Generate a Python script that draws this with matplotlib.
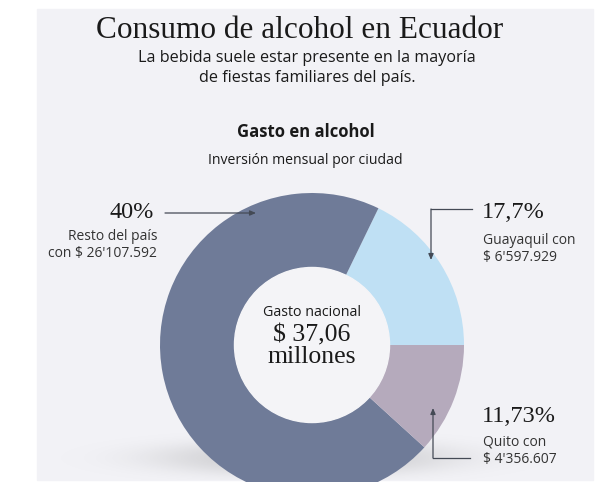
import numpy as np
import matplotlib.pyplot as plt
from matplotlib.patches import Rectangle, Circle

# gasto mensual en alcohol por ciudad (USD)
ciudades = ["Guayaquil", "Resto del país", "Quito"]
montos = [6597929, 26107592, 4356607]
porcentajes = ["17,7%", "40%", "11,73%"]
montos_txt = ["$ 6'597.929", "$ 26'107.592", "$ 4'356.607"]
total_txt = "$ 37,06"

colores = ["#bfe0f4", "#6f7b98", "#b5aabc"]
fondo = "#f2f2f6"
SANS = "Open Sans"
SERIF = "Liberation Serif"

W, H = 598, 482
fig = plt.figure(figsize=(W / 100, H / 100), dpi=100)
ax = fig.add_axes([0, 0, 1, 1])


def y(py):
    # pixel row (from top) -> data y
    return H - py


# panel de fondo
ax.add_patch(Rectangle((37, y(480)), 556, 471, color=fondo, zorder=0))

# sombra suave bajo la dona
x0, x1, t0, t1 = 37, 593, 380, 480
xs = np.linspace(x0, x1, 400)
ys = np.linspace(y(t1), y(t0), 150)
gx, gy = np.meshgrid(xs, ys)
d = ((gx - 305) / 150) ** 2 + ((gy - y(458)) / 18) ** 2
sombra = np.zeros(gx.shape + (4,))
sombra[..., :3] = 0.5
sombra[..., 3] = 0.3 * np.exp(-d ** 1.5)
ax.imshow(sombra, extent=(x0, x1, y(t1), y(t0)), origin="lower",
          zorder=1, interpolation="bilinear")

cx, cy, r = 312, y(345), 152
ax.pie(montos, colors=colores, startangle=0, counterclock=True,
       center=(cx, cy), radius=r, frame=True,
       wedgeprops=dict(width=r * 0.49, linewidth=0, zorder=2))
ax.add_patch(Circle((cx, cy), r * 0.51, color="#f4f4f7", zorder=3))
ax.set_xlim(0, W)
ax.set_ylim(0, H)
ax.set_aspect("equal")
ax.axis("off")

tc = "#1a1a1a"
# textos de cabecera
ax.text(300, y(31), "Consumo de alcohol en Ecuador", family=SERIF,
        fontsize=22.5, ha="center", va="center", color=tc)
ax.text(307, y(58), "La bebida suele estar presente en la mayoría",
        family=SANS, fontsize=11.6, ha="center", va="center", color=tc)
ax.text(307, y(78), "de fiestas familiares del país.",
        family=SANS, fontsize=11.6, ha="center", va="center", color=tc)
ax.text(306, y(132), "Gasto en alcohol", family=SANS, fontsize=12,
        weight="bold", ha="center", va="center", color=tc)
ax.text(305, y(160), "Inversión mensual por ciudad", family=SANS,
        fontsize=10.1, ha="center", va="center", color=tc)

# centro de la dona
ax.text(cx, y(313), "Gasto nacional", family=SANS, fontsize=10.3,
        ha="center", va="center", color=tc, zorder=4)
ax.text(cx, y(335), total_txt, family=SERIF, fontsize=18.5,
        ha="center", va="center", color=tc, zorder=4)
ax.text(cx, y(357), "millones", family=SERIF, fontsize=18.5,
        ha="center", va="center", color=tc, zorder=4)

lc = "#444a55"
sc = "#333333"
flecha = dict(arrowstyle="-|>,head_length=0.35,head_width=0.15",
              color=lc, lw=0.9, shrinkA=0, shrinkB=0)

# Resto del país
ax.text(154, y(213), porcentajes[1], family=SERIF, fontsize=17.5,
        ha="right", va="center", color=tc)
ax.text(157, y(236), "Resto del país", family=SANS, fontsize=10,
        ha="right", va="center", color=sc)
ax.text(157, y(254), "con " + montos_txt[1], family=SANS, fontsize=10,
        ha="right", va="center", color=sc)
ax.annotate("", xy=(256, y(213)), xytext=(165, y(213)),
            arrowprops=flecha, zorder=5)

# Guayaquil
ax.text(482, y(213), porcentajes[0], family=SERIF, fontsize=17.5,
        ha="left", va="center", color=tc)
ax.text(483, y(240), ciudades[0] + " con", family=SANS, fontsize=10,
        ha="left", va="center", color=sc)
ax.text(483, y(258), montos_txt[0], family=SANS, fontsize=10,
        ha="left", va="center", color=sc)
ax.plot([472, 431], [y(209), y(209)], color=lc, lw=0.9, zorder=5)
ax.annotate("", xy=(431, y(260)), xytext=(431, y(209)),
            arrowprops=flecha, zorder=5)

# Quito
ax.text(482, y(417), porcentajes[2], family=SERIF, fontsize=17.5,
        ha="left", va="center", color=tc)
ax.text(483, y(442), ciudades[2] + " con", family=SANS, fontsize=10,
        ha="left", va="center", color=sc)
ax.text(483, y(460), montos_txt[2], family=SANS, fontsize=10,
        ha="left", va="center", color=sc)
ax.plot([470, 433], [y(458), y(458)], color=lc, lw=0.9, zorder=5)
ax.annotate("", xy=(433, y(408)), xytext=(433, y(458)),
            arrowprops=flecha, zorder=5)

fig.savefig("out.png", dpi=100, facecolor="white")
